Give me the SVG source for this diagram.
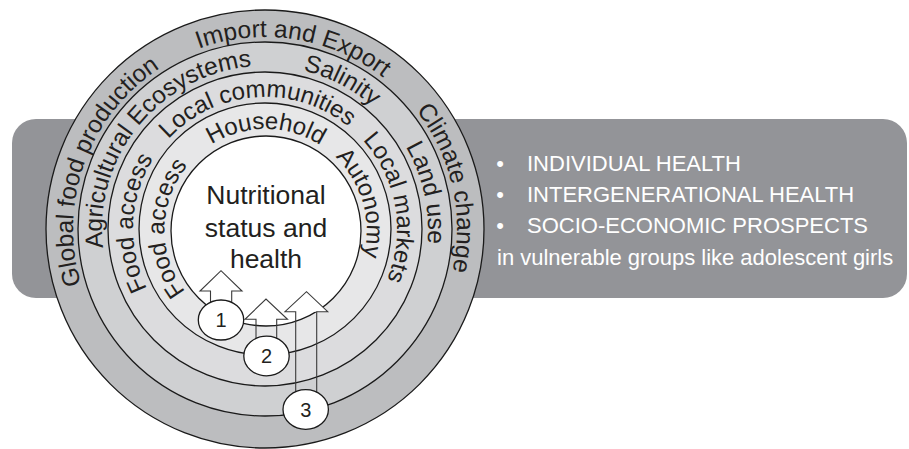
<svg xmlns="http://www.w3.org/2000/svg" width="909" height="449" viewBox="0 0 909 449">
<defs>
<style>
.ring{stroke:#1a1a1a;stroke-width:1.3}
.rt{font-family:"Liberation Sans",Arial,sans-serif;font-size:24.5px;fill:#231f20;text-anchor:middle}
.rt.in{font-size:24px}
.num{font-family:"Liberation Sans",Arial,sans-serif;font-size:20px;fill:#231f20;text-anchor:middle}
.out{font-family:"Liberation Sans",Arial,sans-serif;font-size:22px;fill:#ffffff}
.ctr{font-family:"Liberation Sans",Arial,sans-serif;font-size:26.5px;fill:#231f20;text-anchor:middle}
.head{fill:#fff;stroke:none}
.arr{fill:none;stroke:#3a3a3a;stroke-width:1.1}
.badge{fill:#fff;stroke:#1a1a1a;stroke-width:1.3}
</style>
<path id="p1" d="M265,421 A192,192 0 1 1 265,37 A192,192 0 1 1 265,421"/>
<path id="p2" d="M265,392 A163,163 0 1 1 265,66 A163,163 0 1 1 265,392"/>
<path id="p3" d="M265,361 A132,132 0 1 1 265,97 A132,132 0 1 1 265,361"/>
<path id="p4" d="M265.5,331 A101,101 0 1 1 265.5,129 A101,101 0 1 1 265.5,331"/>
</defs>

<g id="outcomes-panel">
<rect x="12" y="119" width="895" height="179" rx="24" fill="#939498"/>
<text class="out" x="500" y="170.5" text-anchor="middle">•</text>
<text class="out" x="527" y="170.5">INDIVIDUAL HEALTH</text>
<text class="out" x="500" y="201.5" text-anchor="middle">•</text>
<text class="out" x="527" y="201.5">INTERGENERATIONAL HEALTH</text>
<text class="out" x="500" y="233" text-anchor="middle">•</text>
<text class="out" x="527" y="233">SOCIO-ECONOMIC PROSPECTS</text>
<text class="out" x="497" y="265">in vulnerable groups like adolescent girls</text>
</g>

<g id="ring-global">
<circle class="ring" cx="265" cy="229" r="219" fill="#bcbdbf"/>
<text class="rt"><textPath href="#p1" startOffset="368.6">Global food production</textPath></text>
<text class="rt"><textPath href="#p1" startOffset="632.7">Import and Export</textPath></text>
<text class="rt"><textPath href="#p1" startOffset="861.9">Climate change</textPath></text>
</g>

<g id="ring-ecosystems">
<circle class="ring" cx="265" cy="229" r="187" fill="#cfd0d2"/>
<text class="rt"><textPath href="#p2" startOffset="367.8">Agricultural Ecosystems</textPath></text>
<text class="rt"><textPath href="#p2" startOffset="589.7">Salinity</textPath></text>
<text class="rt"><textPath href="#p2" startOffset="732">Land use</textPath></text>
</g>

<g id="ring-communities">
<circle class="ring" cx="265" cy="229" r="157" fill="#dcdcde"/>
<text class="rt in"><textPath href="#p3" startOffset="213.3">Food access</textPath></text>
<text class="rt in"><textPath href="#p3" startOffset="405.5">Local communities</textPath></text>
<text class="rt in"><textPath href="#p3" startOffset="599">Local markets</textPath></text>
</g>

<g id="ring-household">
<circle class="ring" cx="265" cy="229" r="126" fill="#e7e7e8"/>
<text class="rt in"><textPath href="#p4" startOffset="160.4">Food access</textPath></text>
<text class="rt in"><textPath href="#p4" startOffset="317.3">Household</textPath></text>
<text class="rt in"><textPath href="#p4" startOffset="447.7">Autonomy</textPath></text>
</g>

<g id="core">
<circle class="ring" cx="266" cy="231" r="95" fill="#ffffff"/>
<text class="ctr" x="266" y="204">Nutritional</text>
<text class="ctr" x="266" y="236.5">status and</text>
<text class="ctr" x="266" y="268">health</text>
</g>

<g id="connectors">
<polygon class="head" points="200,291 221,270.7 242,291"/>
<path class="arr" d="M210.5,305 V291 H200 L221,270.7 L242,291 H231.7 V305"/>
<polygon class="head" points="245,319.3 266,299 287.5,319.3"/>
<path class="arr" d="M256,345 V319.3 H245 L266,299 L287.5,319.3 H276.7 V345"/>
<polygon class="head" points="285,311.7 306.5,291.7 327.7,311.7"/>
<path class="arr" d="M295.7,400 V311.7 H285 L306.5,291.7 L327.7,311.7 H316.7 V400"/>
</g>

<g id="level-1">
<ellipse class="badge" cx="221" cy="320" rx="22.7" ry="20"/>
<text class="num" x="221" y="327">1</text>
</g>
<g id="level-2">
<ellipse class="badge" cx="266.5" cy="356" rx="22.7" ry="19.8"/>
<text class="num" x="266.5" y="363">2</text>
</g>
<g id="level-3">
<ellipse class="badge" cx="305.7" cy="409.5" rx="22.7" ry="19.8"/>
<text class="num" x="305.7" y="416.5">3</text>
</g>
</svg>
